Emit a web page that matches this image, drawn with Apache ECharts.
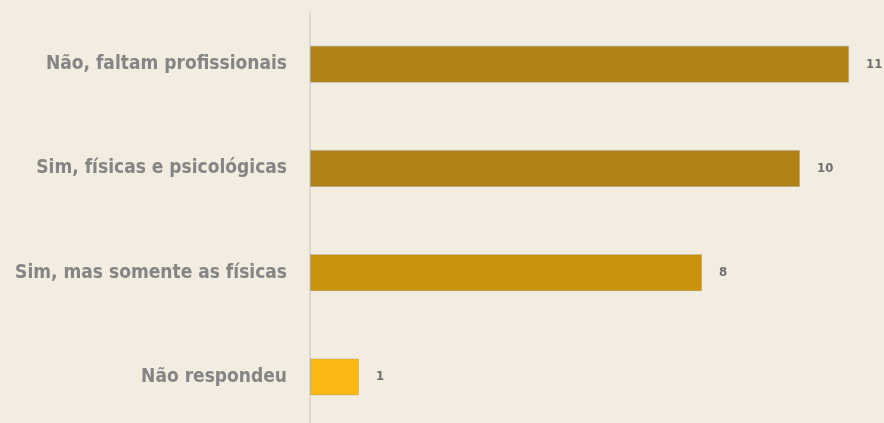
<!DOCTYPE html>
<html><head><meta charset="utf-8">
<script src="https://cdn.jsdelivr.net/npm/echarts@6/dist/echarts.min.js"></script>
<style>html,body{margin:0;padding:0;background:#f2ece1;}#c{width:884px;height:423px;}</style>
</head><body><div id="c"></div>
<script>
var categories = ["Não, faltam profissionais", "Sim, físicas e psicológicas", "Sim, mas somente as físicas", "Não respondeu"];
var values = [11, 10, 8, 1];
var colors = ["#b08318", "#b08318", "#ca920a", "#fdb913"];

var chart = echarts.init(document.getElementById('c'));
chart.setOption({
  backgroundColor: '#f2ece1',
  animation: false,
  grid: {left: 310, top: 12, width: 539, height: 417, outerBoundsMode: 'none'},
  xAxis: {type: 'value', min: 0, max: 11, show: false},
  yAxis: {
    type: 'category', data: categories, inverse: true,
    axisLine: {show: true, lineStyle: {color: '#ddd7cc', width: 2}},
    axisTick: {show: false},
    axisLabel: {color: '#858585', fontFamily: 'DejaVu Sans Condensed', fontWeight: 'bold', fontSize: 19, margin: 23}
  },
  series: [{
    type: 'bar', barWidth: 37,
    data: values.map(function(v, i){ return {value: v, itemStyle: {color: colors[i]}}; }),
    itemStyle: {borderColor: 'rgba(150,140,120,0.35)', borderWidth: 1},
    label: {show: true, position: 'right', distance: 17, color: '#6e6e6e', fontFamily: 'DejaVu Sans Condensed', fontWeight: 'bold', fontSize: 13}
  }]
});
</script></body></html>
